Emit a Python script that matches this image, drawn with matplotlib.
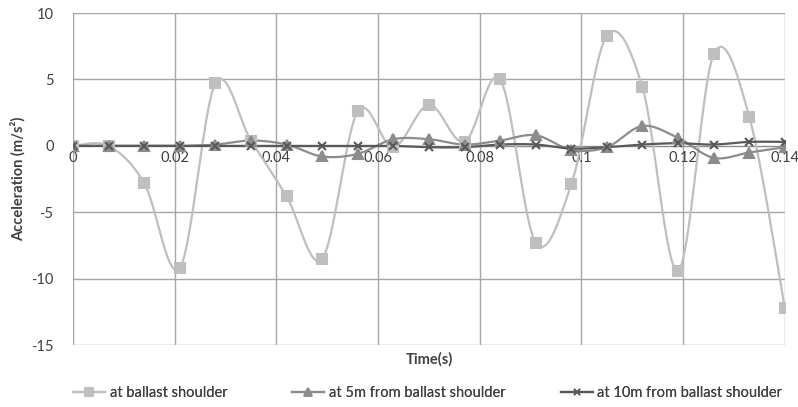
import numpy as np
import matplotlib.pyplot as plt
from matplotlib.lines import Line2D

plt.rcParams['font.family'] = ['Lato', 'DejaVu Sans']
plt.rcParams['axes.unicode_minus'] = False

# time steps (s)
time = [0.0, 0.007, 0.014, 0.021, 0.028, 0.035, 0.042, 0.049, 0.056, 0.063, 0.070,
        0.077, 0.084, 0.091, 0.098, 0.105, 0.112, 0.119, 0.126, 0.133, 0.140]

acc_shoulder = [0.0, 0.0, -2.8, -9.2, 4.7, 0.4, -3.8, -8.5, 2.6, -0.1, 3.1,
                0.3, 5.0, -7.3, -2.9, 8.3, 4.4, -9.4, 6.9, 2.2, -12.2]
acc_5m = [0.0, 0.0, 0.0, 0.0, 0.1, 0.4, 0.1, -0.8, -0.6, 0.5, 0.5,
          0.1, 0.4, 0.8, -0.3, -0.1, 1.5, 0.6, -0.9, -0.5, -0.1]
acc_10m = [0.0, 0.0, 0.0, 0.0, 0.0, 0.0, 0.0, 0.0, 0.0, 0.0, -0.1,
           -0.1, 0.1, 0.1, -0.2, -0.1, 0.1, 0.2, 0.1, 0.3, 0.3]

labels = ["at ballast shoulder", "at 5m from ballast shoulder", "at 10m from ballast shoulder"]
x_ticks = [0, 0.02, 0.04, 0.06, 0.08, 0.1, 0.12, 0.14]
x_tick_labels = ["0", "0.02", "0.04", "0.06", "0.08", "0.1", "0.12", "0.14"]
y_ticks = [-15, -10, -5, 0, 5, 10]


def smooth(x, y, n=30):
    # cubic Bezier through the points, control points from neighbours (tension 1/6)
    x = np.asarray(x, float)
    y = np.asarray(y, float)
    xs, ys = [x[0]], [y[0]]
    t = np.linspace(0, 1, n)[1:]
    for i in range(len(x) - 1):
        p0 = np.array([x[max(i - 1, 0)], y[max(i - 1, 0)]])
        p1 = np.array([x[i], y[i]])
        p2 = np.array([x[i + 1], y[i + 1]])
        p3 = np.array([x[min(i + 2, len(x) - 1)], y[min(i + 2, len(x) - 1)]])
        c1 = p1 + (p2 - p0) / 6
        c2 = p2 - (p3 - p1) / 6
        b = (((1 - t) ** 3)[:, None] * p1 + (3 * (1 - t) ** 2 * t)[:, None] * c1
             + (3 * (1 - t) * t ** 2)[:, None] * c2 + (t ** 3)[:, None] * p2)
        xs.extend(b[:, 0])
        ys.extend(b[:, 1])
    return xs, ys


fig = plt.figure(figsize=(7.98, 4.07), dpi=100)
ax = fig.add_axes([0.0915, 0.152, 0.892, 0.816])

series = [
    (acc_shoulder, "#BFBFBF", "s", 6.5, 1.6),
    (acc_5m, "#8C8C8C", "^", 7, 1.6),
    (acc_10m, "#595959", "x", 6, 1.6),
]
handles = []
for (vals, col, mk, ms, lw), lab in zip(series, labels):
    sx, sy = smooth(time, vals)
    ax.plot(sx, sy, color=col, lw=lw, zorder=3)
    ax.plot(time, vals, ls="none", marker=mk, ms=ms, color=col,
            mec=col, mew=1.5, zorder=4)
    handles.append(Line2D([], [], color=col, lw=lw, marker=mk, ms=ms * 0.8, mew=1.2))

ax.set_xlim(0, 0.14)
ax.set_ylim(-15, 10)
ax.set_xticks(x_ticks)
ax.set_xticklabels(x_tick_labels)
ax.set_yticks(y_ticks)
ax.grid(True, color="#A6A6A6", lw=1)
ax.set_axisbelow(True)
for s in ["top", "right", "left"]:
    ax.spines[s].set_visible(False)
ax.spines["bottom"].set_position(("data", 0))
ax.spines["bottom"].set_color("#8C8C8C")
ax.tick_params(axis="both", length=0, labelsize=10.5, colors="#404040")
ax.tick_params(axis="x", pad=4)
ax.tick_params(axis="y", pad=14)

ax.set_ylabel("Acceleration (m/s²)", fontsize=10.5, fontweight="bold", color="#404040", labelpad=4)
fig.text(0.5375, 0.118, "Time(s)", ha="center", va="center", fontsize=10.5,
         fontweight="bold", color="#404040")

# one legend box per series, spread along the bottom
legend_x = [0.092, 0.366, 0.703]
for h, lab, lx in zip(handles, labels, legend_x):
    leg = fig.legend([h], [lab], loc="center left", bbox_to_anchor=(lx, 0.035),
                     frameon=False, fontsize=10.5, handlelength=2.2, handletextpad=0.3,
                     labelcolor="#404040", borderaxespad=0, borderpad=0)
    fig.add_artist(leg)

fig.savefig("out.png", dpi=100)
